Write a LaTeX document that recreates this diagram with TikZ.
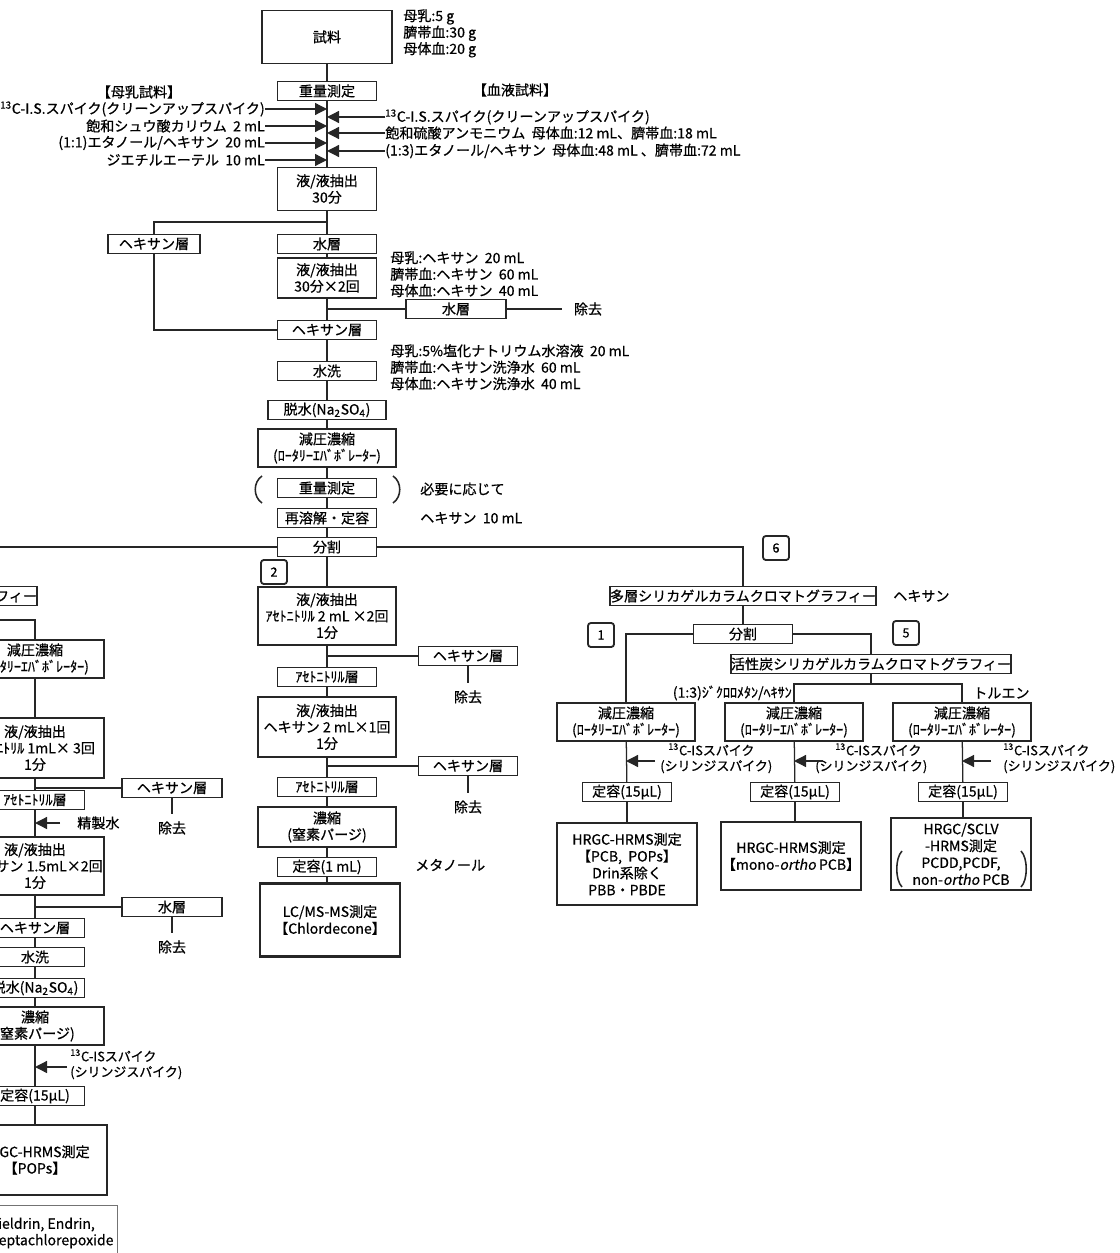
\documentclass[tikz,border=0pt]{standalone}
\usepackage{fontspec}
\setmainfont{Noto Sans CJK JP}[
    FakeBold=0.6,
    ItalicFont={Noto Sans CJK JP},
    ItalicFeatures={FakeSlant=0.2, FakeBold=0.6}]
\usetikzlibrary{
    arrows.meta,
    positioning
}

\begin{document}
\begin{tikzpicture}[
        x=0.25mm, y=-0.25mm,
        every node/.style={font=\fontsize{10}{11.7}\selectfont, inner sep=0pt},
        block/.style={
            rectangle,
            draw=black!85,
            line width=0.9pt,
            minimum width=24.75mm,
            minimum height=4.75mm,
            align=center
        },
        wideblock/.style={block, minimum width=34.5mm, minimum height=9.5mm},
        result/.style={block, line width=1.8pt, minimum width=35mm,
            font=\fontsize{10}{12}\selectfont},
        tag/.style={
            rectangle,
            rounded corners=2pt,
            draw=black!85,
            line width=1.3pt,
            minimum width=6.5mm,
            minimum height=6mm,
            font=\fontsize{9}{10}\selectfont
        },
        note/.style={align=left},
        spikenote/.style={align=left, font=\fontsize{9.2}{11}\selectfont},
        flow/.style={line width=0.9pt, draw=black!85},
        spike/.style={flow, -{Triangle[length=3mm,width=3mm]}},
        paren/.style={line width=1.1pt, draw=black!85}
    ]
    \useasboundingbox (0,0) rectangle (1120,1253);
    \clip (0,0) rectangle (1120,1253);

    % sample and additions
    \node[block, minimum width=32.5mm, minimum height=13.25mm] (sample) at (327,37) {試料};
    \node[note, anchor=north west] (size) at (403,9) {母乳:5 g\\臍帯血:30 g\\母体血:20 g};
    \node[block] (weigh) at (327,91) {重量測定};
    \node (milk) at (139,92) {【母乳試料】};
    \node (blood) at (515,90) {【血液試料】};
    \node[anchor=east] (mspike) at (265,109) {\textsuperscript{13}C-I.S.スパイク(クリーンアップスパイク)};
    \node[anchor=east] (oxal) at (265,126) {飽和シュウ酸カリウム\ \ 2 mL};
    \node[anchor=east] (etoh) at (265,143) {(1:1)エタノール/ヘキサン\ \ 20 mL};
    \node[anchor=east] (ether) at (265,160) {ジエチルエーテル\ \ 10 mL};
    \node[anchor=west] (bspike) at (385,117) {\textsuperscript{13}C-I.S.スパイク(クリーンアップスパイク)};
    \node[anchor=west] (amsul) at (385,133) {飽和硫酸アンモニウム\ \ 母体血:12 mL、臍帯血:18 mL};
    \node[anchor=west] (etoh2) at (385,151) {(1:3)エタノール/ヘキサン\ \ 母体血:48 mL 、臍帯血:72 mL};
    \node[block, minimum height=10.75mm] (ext1) at (327,189) {液/液抽出\\30分};

    \draw[flow] (sample) -- (weigh);
    \draw[flow] (weigh) -- (ext1);
    \draw[spike] (mspike.east) -- (mspike.east -| weigh.south);
    \draw[spike] (oxal.east) -- (oxal.east -| weigh.south);
    \draw[spike] (etoh.east) -- (etoh.east -| weigh.south);
    \draw[spike] (ether.east) -- (ether.east -| weigh.south);
    \draw[spike] (bspike.west) -- (bspike.west -| weigh.south);
    \draw[spike] (amsul.west) -- (amsul.west -| weigh.south);
    \draw[spike] (etoh2.west) -- (etoh2.west -| weigh.south);

    % first extraction
    \coordinate (split1) at (327,222);
    \node[block, minimum width=23mm] (hexL) at (154,244) {ヘキサン層};
    \node[block] (aq1) at (327,244) {水層};
    \node[block, minimum height=10mm] (ext2) at (327,278) {液/液抽出\\30分×2回};
    \node[note, anchor=north west] (hexvol) at (390,251) {母乳:ヘキサン\ \ 20 mL\\臍帯血:ヘキサン\ \ 60 mL\\母体血:ヘキサン\ \ 40 mL};
    \node[block, minimum width=25mm] (aq2) at (456,309) {水層};
    \node (del1) at (588,309) {除去};
    \node[block] (hex1) at (327,330) {ヘキサン層};

    \draw[flow] (ext1) -- (aq1);
    \draw[flow] (hexL) |- (split1);
    \draw[flow] (aq1) -- (ext2);
    \draw[flow] (ext2) -- (hex1);
    \draw[flow] (aq2.west -| ext2.south) -- (aq2);
    \draw[flow, shorten >=3mm] (aq2) -- (del1);
    \draw[flow] (hexL) |- (hex1);

    % washing, drying, concentration
    \node[note, anchor=north west] (washvol) at (390,344) {母乳:5\%塩化ナトリウム水溶液\ \ 20 mL\\臍帯血:ヘキサン洗浄水\ \ 60 mL\\母体血:ヘキサン洗浄水\ \ 40 mL};
    \node[block] (wash) at (327,371) {水洗};
    \node[block, minimum width=29.5mm] (dry) at (327,410) {脱水(Na\textsubscript{2}SO\textsubscript{4})};
    \node[wideblock] (evap) at (327,448) {減圧濃縮\\(ﾛｰﾀﾘｰｴﾊﾞﾎﾞﾚｰﾀｰ)};
    \node[block] (weigh2) at (327,488) {重量測定};
    \node[anchor=west] (ifneed) at (420,489) {必要に応じて};
    \node[block] (redis) at (327,518) {再溶解・定容};
    \node[anchor=west] (hex10) at (420,518) {ヘキサン\ \ 10 mL};
    \node[block] (div) at (327,547) {分割};
    \draw[paren] (262,476) .. controls (253,482) and (253,497) .. (262,503);
    \draw[paren] (393,476) .. controls (402,482) and (402,497) .. (393,503);

    \draw[flow] (hex1) -- (wash);
    \draw[flow] (wash) -- (dry);
    \draw[flow] (dry) -- (evap);
    \draw[flow] (evap) -- (weigh2);
    \draw[flow] (weigh2) -- (redis);
    \draw[flow] (redis) -- (div);

    % split
    \coordinate (farleft) at (-20,547);
    \node[block, minimum width=64.5mm] (pcol) at (743,596) {多層シリカゲルカラムクロマトグラフィー};
    \node[tag] (t6) at (776,548) {6};
    \draw[flow] (div) -- (farleft);
    \draw[flow] (div) -| (pcol);

    % branch 2
    \node[tag] (t2) at (274,572) {2};
    \node[wideblock, minimum height=14.5mm] (lle3) at (327,616) {液/液抽出\\ｱｾﾄﾆﾄﾘﾙ 2 mL ×2回\\1分};
    \node[block] (hexA) at (468,656) {ヘキサン層};
    \node (delA) at (468,697) {除去};
    \node[block] (acnA) at (327,677) {ｱｾﾄﾆﾄﾘﾙ層};
    \node[wideblock, minimum height=15mm] (lle4) at (327,727) {液/液抽出\\ヘキサン 2 mL×1回\\1分};
    \node[block] (hexB) at (468,766) {ヘキサン層};
    \node (delB) at (468,807) {除去};
    \node[block] (acnB) at (327,787) {ｱｾﾄﾆﾄﾘﾙ層};
    \node[wideblock, minimum height=10mm] (conc) at (327,827) {濃縮\\(窒素パージ)};
    \node[block] (fix1) at (327,867) {定容(1 mL)};
    \node[anchor=west] (meoh) at (415,865) {メタノール};
    \node[result, minimum height=18.25mm] (lcms) at (330,920) {LC/MS-MS測定\\【Chlordecone】};

    \draw[flow] (div) -- (lle3);
    \draw[flow] (lle3) -- (acnA);
    \draw[flow] (hexA.west -| lle3.south) -- (hexA);
    \draw[flow, shorten >=1.8mm] (hexA) -- (delA);
    \draw[flow] (acnA) -- (lle4);
    \draw[flow] (lle4) -- (acnB);
    \draw[flow] (hexB.west -| lle4.south) -- (hexB);
    \draw[flow, shorten >=1.8mm] (hexB) -- (delB);
    \draw[flow] (acnB) -- (conc);
    \draw[flow] (conc) -- (fix1);
    \draw[flow] (fix1) -- (lcms.north -| fix1.south);

    % branch 6
    \node[anchor=west] (hexr) at (893,596) {ヘキサン};
    \node[block] (div2) at (743,634) {分割};
    \node[tag] (t1) at (601,635) {1};
    \node[tag] (t5) at (906,633) {5};
    \node[block, minimum width=69mm] (ccol) at (871,664) {活性炭シリカゲルカラムクロマトグラフィー};
    \coordinate (fork) at (871,684);
    \node[anchor=east] (dcm) at (792,693) {(1:3)ｼﾞｸﾛﾛﾒﾀﾝ/ﾍｷｻﾝ};
    \node[anchor=west] (tol) at (973,693) {トルエン};
    \node[wideblock] (evA) at (626,722) {減圧濃縮\\(ﾛｰﾀﾘｰｴﾊﾞﾎﾞﾚｰﾀｰ)};
    \node[wideblock] (evB) at (794,722) {減圧濃縮\\(ﾛｰﾀﾘｰｴﾊﾞﾎﾞﾚｰﾀｰ)};
    \node[wideblock] (evC) at (962,722) {減圧濃縮\\(ﾛｰﾀﾘｰｴﾊﾞﾎﾞﾚｰﾀｰ)};
    \coordinate (tailA) at (655,761);
    \coordinate (tailB) at (823,761);
    \coordinate (tailC) at (991,761);
    \node[spikenote, anchor=north west] (spkA) at (660,743) {\hspace{2mm}\textsuperscript{13}C-ISスパイク\\(シリンジスパイク)};
    \node[spikenote, anchor=north west] (spkB) at (815,743) {\hspace{5mm}\textsuperscript{13}C-ISスパイク\\(シリンジスパイク)};
    \node[spikenote, anchor=north west] (spkC) at (1003,743) {\textsuperscript{13}C-ISスパイク\\(シリンジスパイク)};
    \node[block, minimum width=22.25mm] (fixA) at (627,792) {定容(15μL)};
    \node[block, minimum width=22.25mm] (fixB) at (795,792) {定容(15μL)};
    \node[block, minimum width=22.25mm] (fixC) at (963,792) {定容(15μL)};
    \node[result, minimum height=20.5mm] (msA) at (627,864) {HRGC-HRMS測定\\【PCB,\ \ POPs】\\Drin系除く\\PBB・PBDE};
    \node[result, minimum height=17mm] (msB) at (791,856) {HRGC-HRMS測定\\【mono-\textit{ortho} PCB】};
    \node[result, minimum height=18mm] (msC) at (961,854) {HRGC/SCLV\\-HRMS測定\\PCDD,PCDF,\\non-\textit{ortho} PCB};
    \draw[paren] (902,851) .. controls (895,858) and (895,880) .. (902,887);
    \draw[paren] (1021,851) .. controls (1028,858) and (1028,880) .. (1021,887);

    \draw[flow] (pcol) -- (div2);
    \draw[flow] (div2) -| (ccol);
    \draw[flow] (div2) -| (evA);
    \draw[flow] (ccol) -- (fork);
    \draw[flow] (evB.north) |- (fork) -| (evC.north);
    \draw[flow] (evA) -- (fixA);
    \draw[flow] (evB) -- (fixB);
    \draw[flow] (evC) -- (fixC);
    \draw[spike] (tailA) -- (tailA -| evA.south);
    \draw[spike] (tailB) -- (tailB -| evB.south);
    \draw[spike] (tailC) -- (tailC -| evC.south);
    \draw[flow] (fixA) -- (msA.north -| fixA.south);
    \draw[flow] (fixB) -- (msB.north -| fixB.south);
    \draw[flow] (fixC) -- (msC.north -| fixC.south);

    % left branch
    \node[block, minimum width=64.5mm] (pcolL) at (-96,596) {多層シリカゲルカラムクロマトグラフィー};
    \coordinate (divL) at (-20,620);
    \node[wideblock] (evL) at (35,659) {減圧濃縮\\(ﾛｰﾀﾘｰｴﾊﾞﾎﾞﾚｰﾀｰ)};
    \node[wideblock, minimum height=15mm] (lleL1) at (35,748) {液/液抽出\\ｱｾﾄﾆﾄﾘﾙ 1mL× 3回\\1分};
    \node[block, minimum width=25mm] (hexC) at (172,788) {ヘキサン層};
    \node (delC) at (172,828) {除去};
    \node[block] (acnL) at (35,800) {ｱｾﾄﾆﾄﾘﾙ層};
    \coordinate (tailW) at (60,823);
    \node[anchor=west] (water) at (77,823) {精製水};
    \node[wideblock, minimum height=14.5mm] (lleL2) at (35,866) {液/液抽出\\ヘキサン 1.5mL×2回\\1分};
    \node[block, minimum width=25mm] (aqC) at (172,907) {水層};
    \node (delD) at (172,947) {除去};
    \node[block] (hexD) at (35,928) {ヘキサン層};
    \node[block] (washL) at (35,957) {水洗};
    \node[block] (dryL) at (35,988) {脱水(Na\textsubscript{2}SO\textsubscript{4})};
    \node[wideblock] (concL) at (35,1026) {濃縮\\(窒素パージ)};
    \coordinate (tailL) at (67,1067);
    \node[spikenote, anchor=north west] (spkL) at (70,1049) {\textsuperscript{13}C-ISスパイク\\(シリンジスパイク)};
    \node[block, minimum width=36mm, minimum height=17.5mm, line width=1.8pt] (msL) at (35,1160) {HRGC-HRMS測定\\【POPs】};
    \node[block] (fixL) at (35,1096) {定容(15μL)};
    \node[draw=black!55, line width=0.5pt, minimum width=33mm, minimum height=14mm,
        align=left] (drin) at (51,1233) {Dieldrin, Endrin,\\Heptachlorepoxide};

    \draw[flow] (divL) -| (evL);
    \draw[flow] (evL) -- (lleL1);
    \draw[flow] (lleL1) -- (acnL);
    \draw[flow] (hexC.west -| lleL1.south) -- (hexC);
    \draw[flow, shorten >=1.8mm] (hexC) -- (delC);
    \draw[spike] (tailW) -- (tailW -| acnL.south);
    \draw[flow] (acnL) -- (lleL2);
    \draw[flow] (aqC.west -| lleL2.south) -- (aqC);
    \draw[flow, shorten >=1.8mm] (aqC) -- (delD);
    \draw[flow] (lleL2) -- (hexD);
    \draw[flow] (hexD) -- (washL);
    \draw[flow] (washL) -- (dryL);
    \draw[flow] (dryL) -- (concL);
    \draw[flow] (concL) -- (fixL);
    \draw[spike] (tailL) -- (tailL -| concL.south);
    \draw[flow] (fixL) -- (msL);
\end{tikzpicture}
\end{document}
